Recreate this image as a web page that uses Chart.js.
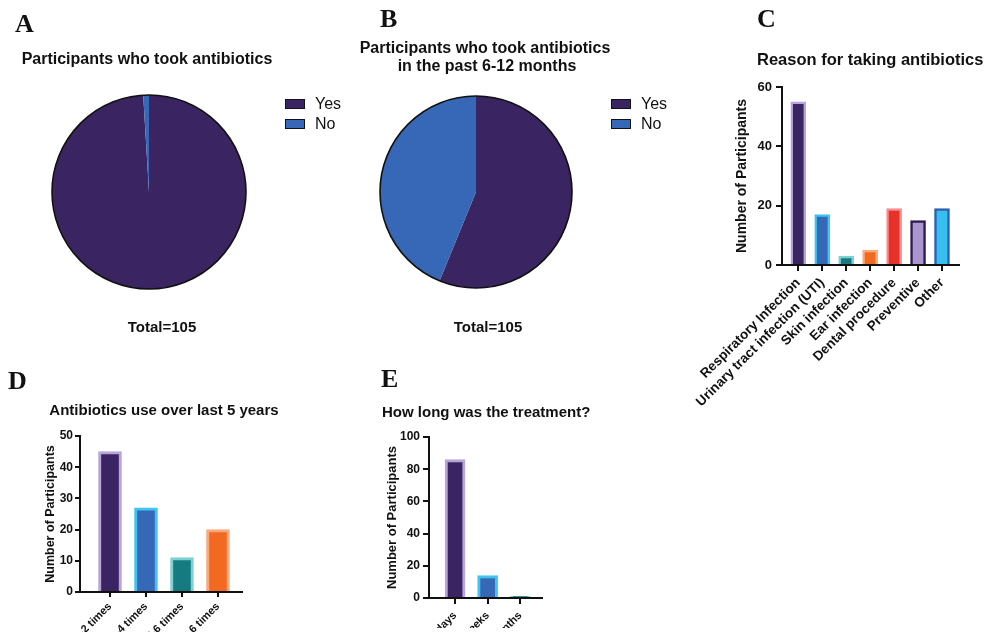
<!DOCTYPE html>
<html><head><meta charset="utf-8">
<script src="https://cdn.jsdelivr.net/npm/chart.js@4.4.0/dist/chart.umd.min.js"></script>
<style>
html,body{margin:0;padding:0;background:#fff;}
body{width:986px;height:644px;position:relative;overflow:hidden;font-family:"Liberation Sans",Arial,sans-serif;color:#111;}
canvas{position:absolute;left:0;top:0;}
.t{position:absolute;white-space:nowrap;line-height:1;}
.c{transform:translateX(-50%);}
.letter{font-family:"Liberation Serif","Times New Roman",serif;font-weight:bold;font-size:26px;}
.ttl{font-weight:bold;}
.leg{position:absolute;font-size:16px;line-height:20px;}
.leg .row{display:flex;align-items:center;height:20px;}
.leg .box{width:18px;height:8px;border:1.5px solid #111;margin-right:10px;}
</style>
</head><body>
<canvas id="pieA" width="986" height="644"></canvas>
<canvas id="pieB" width="986" height="644"></canvas>
<canvas id="barC" width="986" height="644"></canvas>
<canvas id="barD" width="986" height="644"></canvas>
<canvas id="barE" width="986" height="644"></canvas>

<div class="t letter" style="left:15px;top:11px;">A</div>
<div class="t letter" style="left:380px;top:6px;">B</div>
<div class="t letter" style="left:757px;top:6px;">C</div>
<div class="t letter" style="left:8px;top:368px;">D</div>
<div class="t letter" style="left:381px;top:366px;">E</div>

<div class="t ttl c" style="left:147px;top:50.5px;font-size:16px;">Participants who took antibiotics</div>
<div class="t ttl c" style="left:485px;top:39.5px;font-size:16px;">Participants who took antibiotics</div>
<div class="t ttl c" style="left:487px;top:58px;font-size:16px;">in the past 6-12 months</div>
<div class="t ttl" style="left:757px;top:51px;font-size:16.5px;">Reason for taking antibiotics</div>
<div class="t ttl c" style="left:164px;top:402.3px;font-size:15px;">Antibiotics use over last 5 years</div>
<div class="t ttl" style="left:382px;top:403.8px;font-size:15px;">How long was the treatment?</div>
<div class="t ttl c" style="left:162px;top:318.8px;font-size:15px;">Total=105</div>
<div class="t ttl c" style="left:488px;top:318.8px;font-size:15px;">Total=105</div>

<div class="leg" id="legA" style="left:285px;top:94px;"></div>
<div class="leg" id="legB" style="left:611px;top:94px;"></div>

<script>
// ---------- data ----------
const pieLabels = ['Yes', 'No'];
const pieAValues = [104, 1];
const pieBValues = [59, 46];

const reasonLabels = ['Respiratory Infection', 'Urinary tract infection (UTI)', 'Skin infection', 'Ear infection', 'Dental procedure', 'Preventive', 'Other'];
const reasonValues = [55, 17, 3, 5, 19, 15, 19];

const useLabels = ['1-2 times', '3-4 times', '5-6 times', '> 6 times'];
const useValues = [45, 27, 11, 20];

const durationLabels = ['days', 'weeks', 'months'];
const durationValues = [86, 14, 1];

const reasonTicks = [0, 20, 40, 60];
const useTicks = [0, 10, 20, 30, 40, 50];
const durationTicks = [0, 20, 40, 60, 80, 100];

// ---------- colours ----------
const purple = '#3a2461', lavender = '#b9a4da', blue = '#3767b7', cyan = '#3fc4ef',
      teal = '#157b80', lightTeal = '#7fd1d1', orange = '#f26a22', lightOrange = '#f9a97c',
      red = '#e9312b', pink = '#f58d8d', lilac = '#a996cc', darkPurple = '#2c1b54',
      skyBlue = '#37c0ef', deepBlue = '#2f5fb1';
const pieColors = [purple, blue];
const FONT = '"Liberation Sans", Arial, sans-serif';
const INK = '#111';

// ---------- legends ----------
function buildLegend(id) {
  const el = document.getElementById(id);
  pieLabels.forEach((lab, i) => {
    const row = document.createElement('div'); row.className = 'row';
    const box = document.createElement('div'); box.className = 'box'; box.style.background = pieColors[i];
    const txt = document.createElement('span'); txt.textContent = lab;
    row.appendChild(box); row.appendChild(txt); el.appendChild(row);
  });
}
buildLegend('legA'); buildLegend('legB');

// ---------- pies ----------
const outline = {
  id: 'outline',
  afterDatasetsDraw(chart) {
    const arc = chart.getDatasetMeta(0).data[0];
    if (!arc) return;
    const ctx = chart.ctx;
    ctx.save();
    ctx.beginPath();
    ctx.arc(arc.x, arc.y, arc.outerRadius, 0, Math.PI * 2);
    ctx.lineWidth = 1.6; ctx.strokeStyle = INK; ctx.stroke();
    ctx.restore();
  }
};
function makePie(id, values, pad) {
  new Chart(document.getElementById(id), {
    type: 'pie',
    data: { labels: pieLabels, datasets: [{ data: values, backgroundColor: pieColors, borderWidth: 0 }] },
    options: {
      responsive: false, animation: false, events: [],
      layout: { padding: pad },
      plugins: { legend: { display: false }, tooltip: { enabled: false } }
    },
    plugins: [outline]
  });
}
makePie('pieA', pieAValues, { left: 52, right: 986 - 246, top: 95, bottom: 644 - 289 });
makePie('pieB', pieBValues, { left: 380, right: 986 - 572, top: 96, bottom: 644 - 288 });

// ---------- bars ----------
function makeBar(id, labels, values, fills, borders, ticksArr, g) {
  const yMax = ticksArr[ticksArr.length - 1];
  const step = ticksArr[1] - ticksArr[0];
  const yw = g.axisX - (g.titleX - g.titleSize * 0.6);
  new Chart(document.getElementById(id), {
    type: 'bar',
    data: {
      labels: labels,
      datasets: [{
        data: values.map((v, i) => ({ x: i, y: v })),
        backgroundColor: fills, borderColor: borders,
        borderWidth: g.bw, barThickness: g.barW, borderSkipped: 'start'
      }]
    },
    options: {
      responsive: false, animation: false, events: [],
      layout: { padding: { left: g.axisX - yw, right: 986 - g.right, top: g.top, bottom: 644 - g.bottom - g.xh } },
      plugins: { legend: { display: false }, tooltip: { enabled: false } },
      scales: {
        x: {
          type: 'linear', bounds: 'data', min: g.xmin, max: g.xmax, offset: false,
          afterBuildTicks: s => { s.ticks = labels.map((_, i) => ({ value: i })); },
          afterFit: s => { s.height = g.xh; s.paddingLeft = 0; s.paddingRight = 0; },
          ticks: { autoSkip: false, minRotation: 45, maxRotation: 45, color: INK, padding: g.xPad,
                   font: { family: FONT, weight: 'bold', size: g.xSize },
                   callback: (v, i) => labels[i] },
          grid: { offset: false, drawOnChartArea: false, drawTicks: true, tickLength: g.tick, color: INK, lineWidth: 2 },
          border: { display: true, color: INK, width: 2, z: 1 }
        },
        y: {
          type: 'linear', bounds: 'data', min: 0, max: yMax,
          afterFit: s => { s.width = yw; s.paddingTop = 0; s.paddingBottom = 0; },
          ticks: { stepSize: step, color: INK, padding: g.yPad, font: { family: FONT, weight: 'bold', size: g.ySize } },
          grid: { offset: false, drawOnChartArea: false, drawTicks: true, tickLength: g.tick, color: INK, lineWidth: 2 },
          border: { display: true, color: INK, width: 2, z: 1 },
          title: { display: true, text: 'Number of Participants', color: INK, padding: 0,
                   font: { family: FONT, weight: 'bold', size: g.titleSize } }
        }
      }
    }
  });
}

makeBar('barC', reasonLabels, reasonValues,
  [purple, blue, teal, orange, red, lilac, skyBlue],
  [lavender, cyan, lightTeal, lightOrange, pink, darkPurple, deepBlue],
  reasonTicks,
  { axisX: 782, right: 959, top: 87, bottom: 265, xh: 150, xmin: -0.68, xmax: 6.71,
    titleX: 742, titleSize: 14, ySize: 13, xSize: 13.5, tick: 6, yPad: 4, xPad: 4, bw: 2.5, barW: 15 });

makeBar('barD', useLabels, useValues,
  [purple, blue, teal, orange],
  [lavender, cyan, lightTeal, lightOrange],
  useTicks,
  { axisX: 80, right: 242, top: 436, bottom: 592, xh: 40, xmin: -0.833, xmax: 3.667,
    titleX: 51, titleSize: 12.5, ySize: 12, xSize: 11, tick: 5, yPad: 2, xPad: 3, bw: 3, barW: 23 });

makeBar('barE', durationLabels, durationValues,
  [purple, blue, teal],
  [lavender, cyan, lightTeal],
  durationTicks,
  { axisX: 429, right: 542, top: 437, bottom: 598, xh: 30, xmin: -0.8, xmax: 2.67,
    titleX: 392, titleSize: 13, ySize: 12, xSize: 11, tick: 6, yPad: 3, xPad: 5, bw: 3, barW: 20 });
</script>
</body></html>
